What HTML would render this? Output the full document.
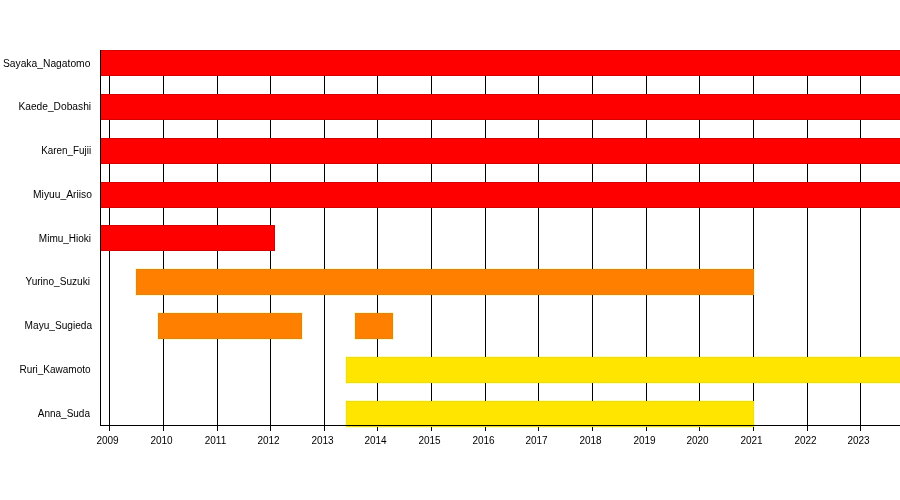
<!DOCTYPE html>
<html><head><meta charset="utf-8"><style>
html,body{margin:0;padding:0;background:#fff;width:900px;height:500px;overflow:hidden}
svg{display:block;will-change:transform}
text{font-family:"Liberation Sans",sans-serif;font-size:10px;fill:#000}
</style></head><body>
<svg width="900" height="500" viewBox="0 0 900 500">
<rect x="135" y="268.00" width="620" height="28" fill="#fff6c4"/>
<rect x="157" y="312.00" width="146" height="28" fill="#fff6c4"/>
<rect x="354" y="312.00" width="40" height="28" fill="#fff6c4"/>
<rect x="345" y="356.00" width="559.0" height="28" fill="#ffffb8"/>
<rect x="345" y="400.00" width="410" height="28" fill="#ffffb8"/>
<rect x="109" y="50" width="1" height="381" fill="#000"/>
<text x="107.50" y="444" text-anchor="middle">2009</text>
<rect x="163" y="50" width="1" height="381" fill="#000"/>
<text x="161.50" y="444" text-anchor="middle">2010</text>
<rect x="217" y="50" width="1" height="381" fill="#000"/>
<text x="215.50" y="444" text-anchor="middle">2011</text>
<rect x="270" y="50" width="1" height="381" fill="#000"/>
<text x="268.50" y="444" text-anchor="middle">2012</text>
<rect x="324" y="50" width="1" height="381" fill="#000"/>
<text x="322.50" y="444" text-anchor="middle">2013</text>
<rect x="377" y="50" width="1" height="381" fill="#000"/>
<text x="375.50" y="444" text-anchor="middle">2014</text>
<rect x="431" y="50" width="1" height="381" fill="#000"/>
<text x="429.50" y="444" text-anchor="middle">2015</text>
<rect x="485" y="50" width="1" height="381" fill="#000"/>
<text x="483.50" y="444" text-anchor="middle">2016</text>
<rect x="538" y="50" width="1" height="381" fill="#000"/>
<text x="536.50" y="444" text-anchor="middle">2017</text>
<rect x="592" y="50" width="1" height="381" fill="#000"/>
<text x="590.50" y="444" text-anchor="middle">2018</text>
<rect x="646" y="50" width="1" height="381" fill="#000"/>
<text x="644.50" y="444" text-anchor="middle">2019</text>
<rect x="699" y="50" width="1" height="381" fill="#000"/>
<text x="697.50" y="444" text-anchor="middle">2020</text>
<rect x="753" y="50" width="1" height="381" fill="#000"/>
<text x="751.50" y="444" text-anchor="middle">2021</text>
<rect x="807" y="50" width="1" height="381" fill="#000"/>
<text x="805.50" y="444" text-anchor="middle">2022</text>
<rect x="860" y="50" width="1" height="381" fill="#000"/>
<text x="858.50" y="444" text-anchor="middle">2023</text>
<rect x="100.0" y="50.00" width="803.0" height="26" fill="#d60000"/>
<rect x="101.0" y="51.00" width="801.0" height="24" fill="#ff0000"/>
<rect x="100.0" y="94.00" width="803.0" height="26" fill="#d60000"/>
<rect x="101.0" y="95.00" width="801.0" height="24" fill="#ff0000"/>
<rect x="100.0" y="138.00" width="803.0" height="26" fill="#d60000"/>
<rect x="101.0" y="139.00" width="801.0" height="24" fill="#ff0000"/>
<rect x="100.0" y="182.00" width="803.0" height="26" fill="#d60000"/>
<rect x="101.0" y="183.00" width="801.0" height="24" fill="#ff0000"/>
<rect x="100.0" y="225.00" width="175.0" height="26" fill="#d60000"/>
<rect x="101.0" y="226.00" width="173.0" height="24" fill="#ff0000"/>
<rect x="136" y="269.00" width="618" height="26" fill="#dc8618"/>
<rect x="137" y="270.00" width="616" height="24" fill="#ff8000"/>
<rect x="158" y="313.00" width="144" height="26" fill="#dc8618"/>
<rect x="159" y="314.00" width="142" height="24" fill="#ff8000"/>
<rect x="355" y="313.00" width="38" height="26" fill="#dc8618"/>
<rect x="356" y="314.00" width="36" height="24" fill="#ff8000"/>
<rect x="346" y="357.00" width="557.0" height="26" fill="#ecdb1a"/>
<rect x="347" y="358.00" width="555.0" height="24" fill="#ffe500"/>
<rect x="346" y="401.00" width="408" height="26" fill="#ecdb1a"/>
<rect x="347" y="402.00" width="406" height="24" fill="#ffe500"/>
<rect x="100" y="425" width="800" height="1" fill="#000"/>
<rect x="100" y="50" width="1" height="376" fill="#000"/>
<text x="90.40" y="66.70" text-anchor="end" textLength="87.46" lengthAdjust="spacingAndGlyphs">Sayaka_Nagatomo</text>
<text x="91.10" y="110.45" text-anchor="end" textLength="72.67" lengthAdjust="spacingAndGlyphs">Kaede_Dobashi</text>
<text x="91.10" y="154.20" text-anchor="end" textLength="49.79" lengthAdjust="spacingAndGlyphs">Karen_Fujii</text>
<text x="92.00" y="197.95" text-anchor="end" textLength="58.95" lengthAdjust="spacingAndGlyphs">Miyuu_Ariiso</text>
<text x="91.10" y="241.70" text-anchor="end">Mimu_Hioki</text>
<text x="90.00" y="285.45" text-anchor="end" textLength="64.54" lengthAdjust="spacingAndGlyphs">Yurino_Suzuki</text>
<text x="92.10" y="329.20" text-anchor="end" textLength="67.52" lengthAdjust="spacingAndGlyphs">Mayu_Sugieda</text>
<text x="90.60" y="372.95" text-anchor="end">Ruri_Kawamoto</text>
<text x="90.00" y="416.70" text-anchor="end">Anna_Suda</text>
</svg>
</body></html>
